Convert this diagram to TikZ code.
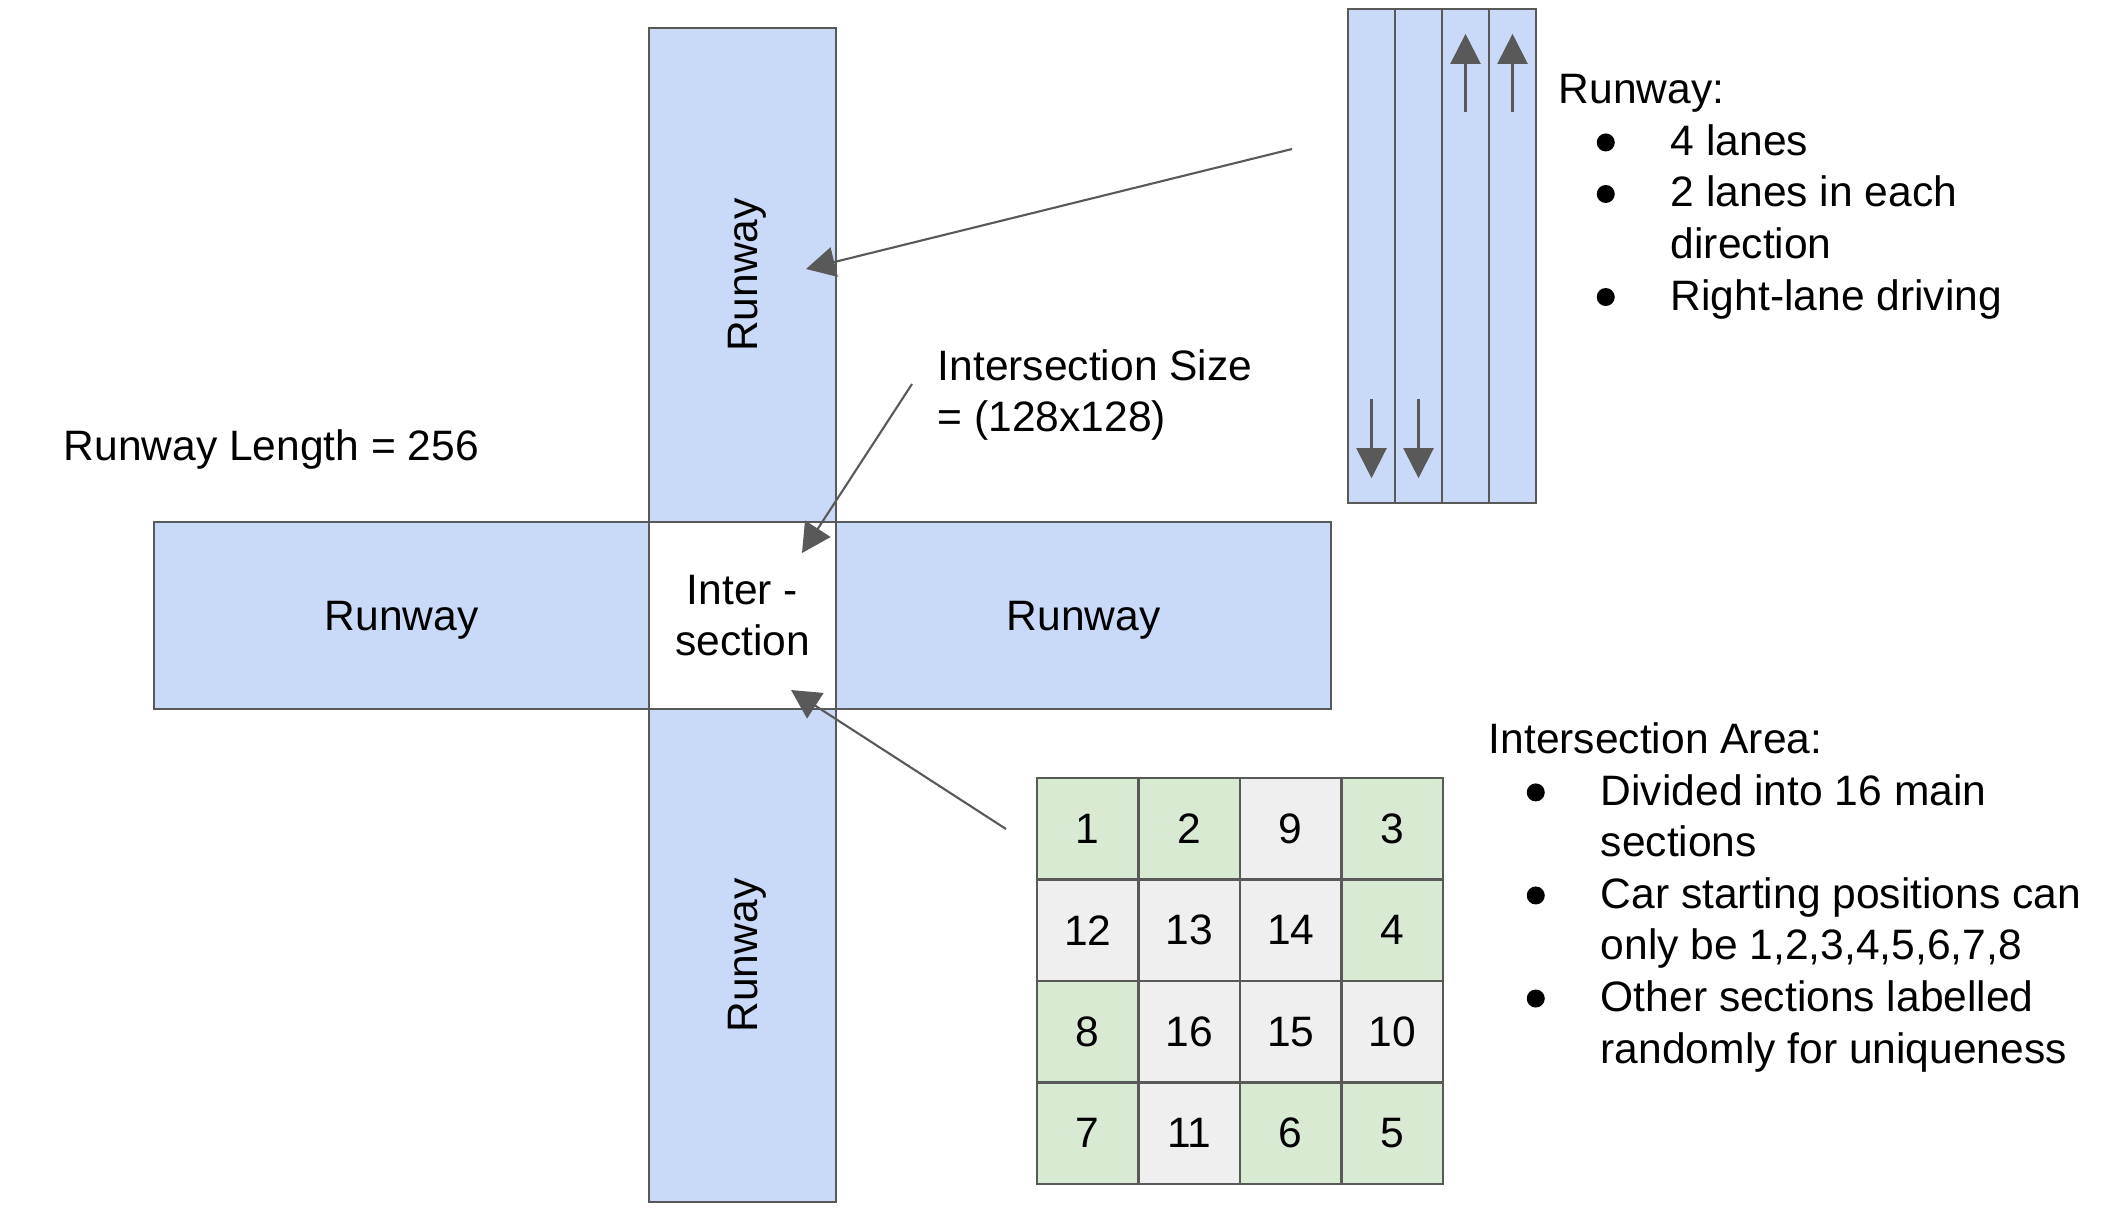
\documentclass[tikz,border=0pt]{standalone}
\usepackage{fontspec}
\setmainfont{Liberation Sans}
\usepackage{tikz}
\usetikzlibrary{arrows.meta}
\definecolor{runblue}{HTML}{C9DAF8}
\definecolor{startgreen}{HTML}{D9EAD3}
\definecolor{othergrey}{HTML}{EFEFEF}
\definecolor{edgegrey}{HTML}{595959}
\newcommand{\dotmark}{\tikz[baseline=0pt]\fill[black] (0cm,0.13cm) circle (0.09cm);}
\newcommand{\bul}{\makebox[1.12cm][l]{\hspace{0.38cm}\dotmark}}
\newcommand{\hang}{\hspace*{1.12cm}}
\tikzset{
    runway/.style={draw=edgegrey, fill=runblue, line width=0.6pt, inner sep=0, text depth=0pt},
    lane/.style={runway, minimum width=0.47cm, minimum height=4.94cm},
    startcell/.style={draw=edgegrey, fill=startgreen, line width=0.6pt, minimum size=1.015cm, inner sep=0},
    othercell/.style={startcell, fill=othergrey},
    note/.style={anchor=base west, inner sep=0, align=left},
    lanearrow/.style={draw=edgegrey, line width=0.6pt, -{Triangle[length=0.3cm,width=0.3cm]}},
    pointer/.style={edgegrey, line width=0.6pt, -{Triangle[length=0.29cm,width=0.3cm]}}
}

\begin{document}
\begin{tikzpicture}[x=0.01cm, y=-0.01cm, font=\fontsize{12.1}{14.65}\selectfont]
    \useasboundingbox (0,0) rectangle (2125,1211);

    % Crossing
    \node[runway, rotate=90, minimum width=4.94cm, minimum height=1.87cm] (runtop) at (742.5,275) {Runway};
    \node[runway, rotate=90, minimum width=4.93cm, minimum height=1.87cm] (runbot) at (742.5,955.5) {Runway};
    \node[runway, minimum width=4.95cm, minimum height=1.87cm] (runleft) at (401.5,615.5) {Runway};
    \node[runway, minimum width=4.95cm, minimum height=1.87cm] (runright) at (1083.5,615.5) {Runway};
    \node[runway, fill=white, minimum size=1.87cm, align=center] (inter) at (742.5,615.5) {Inter -\\section};

    % Lanes
    \node[lane] (lane1) at (1371.5,256) {};
    \node[lane] (lane2) at (1418.5,256) {};
    \node[lane] (lane3) at (1465.5,256) {};
    \node[lane] (lane4) at (1512.5,256) {};
    \draw[lanearrow] ([yshift=-1.04cm]lane3.north) -- ([yshift=-0.26cm]lane3.north);
    \draw[lanearrow] ([yshift=-1.04cm]lane4.north) -- ([yshift=-0.26cm]lane4.north);
    \draw[lanearrow] ([yshift=1.05cm]lane1.south) -- ([yshift=0.26cm]lane1.south);
    \draw[lanearrow] ([yshift=1.05cm]lane2.south) -- ([yshift=0.26cm]lane2.south);

    % Sections
    \node[startcell] (sec1) at (1087.75,828.75) {1};
    \node[startcell] (sec2) at (1189.25,828.75) {2};
    \node[othercell] (sec9) at (1290.75,828.75) {9};
    \node[startcell] (sec3) at (1392.25,828.75) {3};
    \node[othercell] (sec12) at (1087.75,930.25) {12};
    \node[othercell] (sec13) at (1189.25,930.25) {13};
    \node[othercell] (sec14) at (1290.75,930.25) {14};
    \node[startcell] (sec4) at (1392.25,930.25) {4};
    \node[startcell] (sec8) at (1087.75,1031.75) {8};
    \node[othercell] (sec16) at (1189.25,1031.75) {16};
    \node[othercell] (sec15) at (1290.75,1031.75) {15};
    \node[othercell] (sec10) at (1392.25,1031.75) {10};
    \node[startcell] (sec7) at (1087.75,1133.25) {7};
    \node[othercell] (sec11) at (1189.25,1133.25) {11};
    \node[startcell] (sec6) at (1290.75,1133.25) {6};
    \node[startcell] (sec5) at (1392.25,1133.25) {5};

    % Notes (base = last line)
    \node[note] (lengthnote) at (63,460) {Runway Length = 256};
    \node[note] (sizenote) at (937,431.5) {Intersection Size\\= (128x128)};
    \node[note] (lanenotes) at (1558,310) {Runway:\\\bul 4 lanes\\\bul 2 lanes in each\\\hang direction\\\bul Right-lane driving};
    \node[note] (areanotes) at (1488,1063) {Intersection Area:\\\bul Divided into 16 main\\\hang sections\\\bul Car starting positions can\\\hang only be 1,2,3,4,5,6,7,8\\\bul Other sections labelled\\\hang randomly for uniqueness};

    \coordinate (lanesfrom) at (1292,149);
    \coordinate (runtip) at (806,269);
    \coordinate (sizefrom) at (912,384);
    \coordinate (sizetip) at (802,553);
    \coordinate (gridfrom) at (1006,829);
    \coordinate (gridtip) at (791,690);

    \path
        (lanesfrom) [pointer] edge (runtip)
        (sizefrom) [pointer] edge (sizetip)
        (gridfrom) [pointer] edge (gridtip);
\end{tikzpicture}
\end{document}
